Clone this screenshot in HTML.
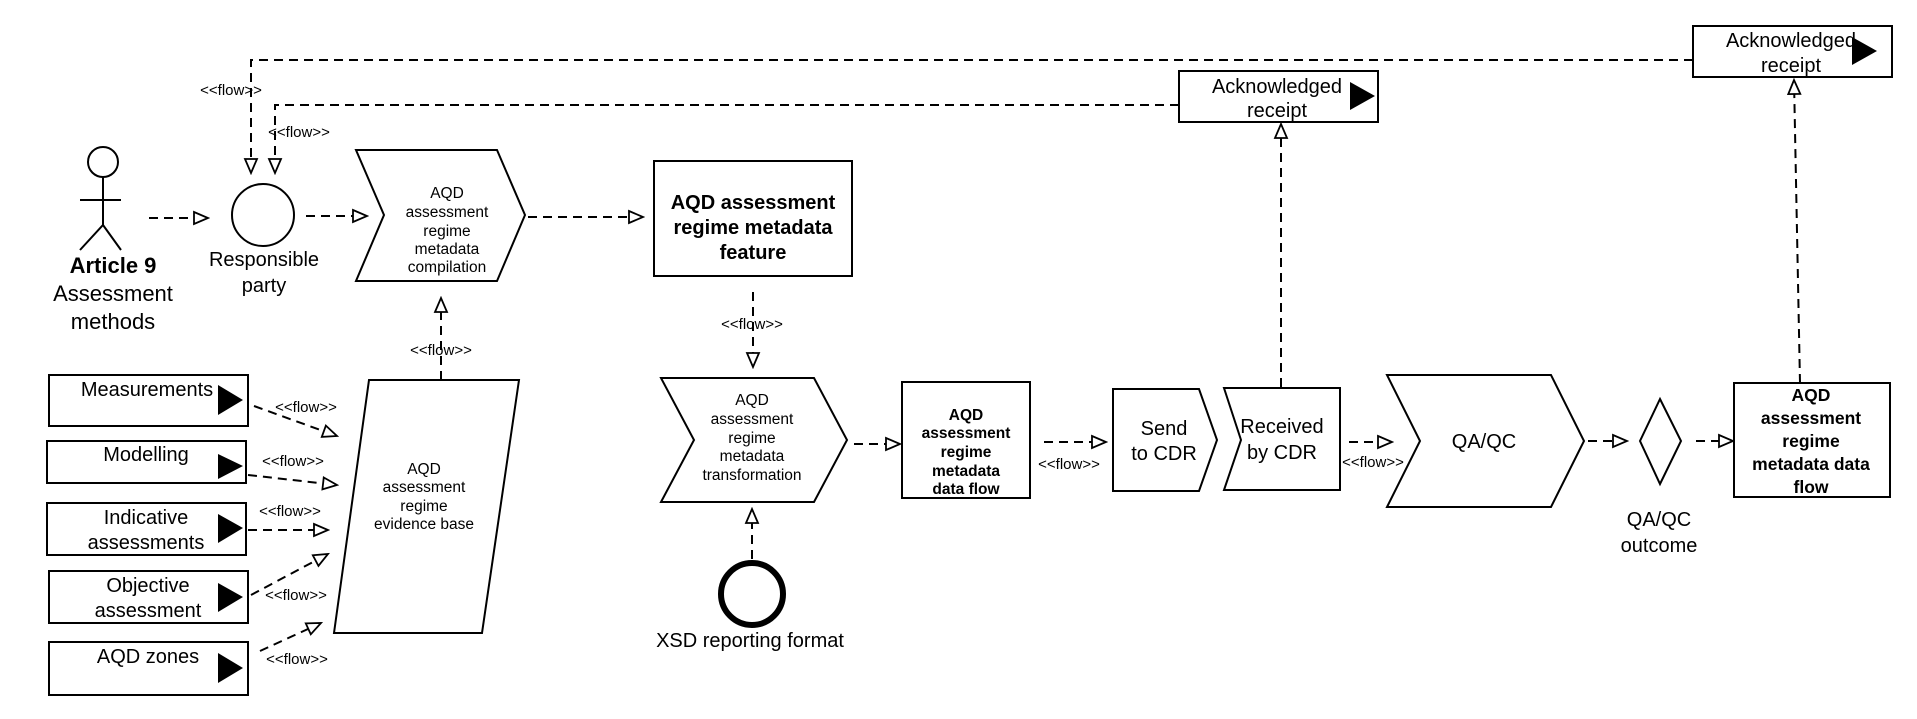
<!DOCTYPE html>
<html><head><meta charset="utf-8"><style>
html,body{margin:0;padding:0;background:#fff;}
svg{display:block;}
text{font-family:"Liberation Sans",Arial,sans-serif;fill:#000;}
</style></head><body>
<svg width="1917" height="719" viewBox="0 0 1917 719" xmlns="http://www.w3.org/2000/svg">
<defs>
<marker id="a" markerWidth="18" markerHeight="16" refX="16" refY="8" orient="auto" markerUnits="userSpaceOnUse">
<path d="M2,2 L16,8 L2,14 Z" fill="#fff" stroke="#000" stroke-width="1.8"/>
</marker>
</defs>
<g fill="none" stroke="#000" stroke-width="2" stroke-dasharray="9 6">
<!-- top feedback lines -->
<path d="M1693,60 L251,60 L251,173" marker-end="url(#a)"/>
<path d="M1179,105 L275,105 L275,173" marker-end="url(#a)"/>
<!-- main -->
<path d="M149,218 L208,218" marker-end="url(#a)"/>
<path d="M306,216 L367,216" marker-end="url(#a)"/>
<path d="M528,217 L643,217" marker-end="url(#a)"/>
<path d="M753,292 L753,367" marker-end="url(#a)"/>
<path d="M441,380 L441,298" marker-end="url(#a)"/>
<path d="M752,559 L752,509" marker-end="url(#a)"/>
<path d="M854,444 L900,444" marker-end="url(#a)"/>
<path d="M1044,442 L1106,442" marker-end="url(#a)"/>
<path d="M1281,387 L1281,124" marker-end="url(#a)"/>
<path d="M1349,442 L1392,442" marker-end="url(#a)"/>
<path d="M1588,441 L1627,441" marker-end="url(#a)"/>
<path d="M1696,441 L1733,441" marker-end="url(#a)"/>
<path d="M1800,383 L1794,80" marker-end="url(#a)"/>
<!-- left boxes -->
<path d="M254,406 L337,436" marker-end="url(#a)"/>
<path d="M248,475 L337,485" marker-end="url(#a)"/>
<path d="M248,530 L328,530" marker-end="url(#a)"/>
<path d="M251,595 L328,554" marker-end="url(#a)"/>
<path d="M260,651 L321,623" marker-end="url(#a)"/>
</g>
<g fill="#fff" stroke="#000" stroke-width="2">
<!-- actor -->
<circle cx="103" cy="162" r="15"/>
<path d="M103,177 L103,225 M80,200 L121,200 M80,250 L103,225 L121,250" fill="none"/>
<circle cx="263" cy="215" r="31"/>
<path d="M356,150 L497,150 L525,215 L497,281 L356,281 L384,215 Z"/>
<rect x="654" y="161" width="198" height="115"/>
<path d="M661,378 L814,378 L847,440 L814,502 L661,502 L694,440 Z"/>
<path d="M369,380 L519,380 L482,633 L334,633 Z"/>
<rect x="49" y="375" width="199" height="51"/>
<rect x="47" y="441" width="199" height="42"/>
<rect x="47" y="503" width="199" height="52"/>
<rect x="49" y="571" width="199" height="52"/>
<rect x="49" y="642" width="199" height="53"/>
<circle cx="752" cy="594" r="31" stroke-width="6"/>
<rect x="902" y="382" width="128" height="116"/>
<path d="M1113,389 L1199,389 L1217,440 L1199,491 L1113,491 Z"/>
<path d="M1224,388 L1340,388 L1340,490 L1224,490 L1241,440 Z"/>
<path d="M1387,375 L1551,375 L1584,441 L1551,507 L1387,507 L1420,441 Z"/>
<path d="M1660,399 L1681,441 L1660,484 L1640,441 Z"/>
<rect x="1734" y="383" width="156" height="114"/>
<rect x="1179" y="71" width="199" height="51"/>
<rect x="1693" y="26" width="199" height="51"/>
</g>
<g fill="#000">
<path d="M218,385 L243,400 L218,415 Z"/>
<path d="M218,454 L243,466 L218,479 Z"/>
<path d="M218,514 L243,528 L218,543 Z"/>
<path d="M218,583 L243,597 L218,612 Z"/>
<path d="M218,653 L243,668 L218,683 Z"/>
<path d="M1350,82 L1375,96 L1350,110 Z"/>
<path d="M1852,37 L1877,51 L1852,65 Z"/>
</g>
<g text-anchor="middle">
<text x="231" y="95" font-size="15">&lt;&lt;flow&gt;&gt;</text>
<text x="299" y="137" font-size="15">&lt;&lt;flow&gt;&gt;</text>
<text x="113" y="273" font-size="22" font-weight="bold">Article 9</text>
<text x="113" y="301" font-size="22">Assessment</text>
<text x="113" y="329" font-size="22">methods</text>
<text x="264" y="266" font-size="20">Responsible</text>
<text x="264" y="292" font-size="20">party</text>
<g font-size="15.5">
<text x="447" y="198">AQD</text>
<text x="447" y="217">assessment</text>
<text x="447" y="236">regime</text>
<text x="447" y="254">metadata</text>
<text x="447" y="272">compilation</text>
<text x="752" y="405">AQD</text>
<text x="752" y="424">assessment</text>
<text x="752" y="443">regime</text>
<text x="752" y="461">metadata</text>
<text x="752" y="480">transformation</text>
<text x="424" y="474">AQD</text>
<text x="424" y="492">assessment</text>
<text x="424" y="511">regime</text>
<text x="424" y="529">evidence base</text>
</g>
<g font-size="20" font-weight="bold">
<text x="753" y="209">AQD assessment</text>
<text x="753" y="234">regime metadata</text>
<text x="753" y="259">feature</text>
</g>
<g font-size="15">
<text x="752" y="329">&lt;&lt;flow&gt;&gt;</text>
<text x="441" y="355">&lt;&lt;flow&gt;&gt;</text>
<text x="306" y="412">&lt;&lt;flow&gt;&gt;</text>
<text x="293" y="466">&lt;&lt;flow&gt;&gt;</text>
<text x="290" y="516">&lt;&lt;flow&gt;&gt;</text>
<text x="296" y="600">&lt;&lt;flow&gt;&gt;</text>
<text x="297" y="664">&lt;&lt;flow&gt;&gt;</text>
<text x="1069" y="469">&lt;&lt;flow&gt;&gt;</text>
<text x="1373" y="467">&lt;&lt;flow&gt;&gt;</text>
</g>
<g font-size="20">
<text x="147" y="396">Measurements</text>
<text x="146" y="461">Modelling</text>
<text x="146" y="524">Indicative</text>
<text x="146" y="549">assessments</text>
<text x="148" y="592">Objective</text>
<text x="148" y="617">assessment</text>
<text x="148" y="663">AQD zones</text>
<text x="750" y="647">XSD reporting format</text>
<text x="1164" y="435">Send</text>
<text x="1164" y="460">to CDR</text>
<text x="1282" y="433">Received</text>
<text x="1282" y="459">by CDR</text>
<text x="1484" y="448">QA/QC</text>
<text x="1659" y="526">QA/QC</text>
<text x="1659" y="552">outcome</text>
<text x="1277" y="93">Acknowledged</text>
<text x="1277" y="117">receipt</text>
<text x="1791" y="47">Acknowledged</text>
<text x="1791" y="72">receipt</text>
</g>
<g font-size="15.5" font-weight="bold">
<text x="966" y="420">AQD</text>
<text x="966" y="438">assessment</text>
<text x="966" y="457">regime</text>
<text x="966" y="476">metadata</text>
<text x="966" y="494">data flow</text>
</g>
<g font-size="17.5" font-weight="bold">
<text x="1811" y="401">AQD</text>
<text x="1811" y="424">assessment</text>
<text x="1811" y="447">regime</text>
<text x="1811" y="470">metadata data</text>
<text x="1811" y="493">flow</text>
</g>
</g>
</svg>
</body></html>
